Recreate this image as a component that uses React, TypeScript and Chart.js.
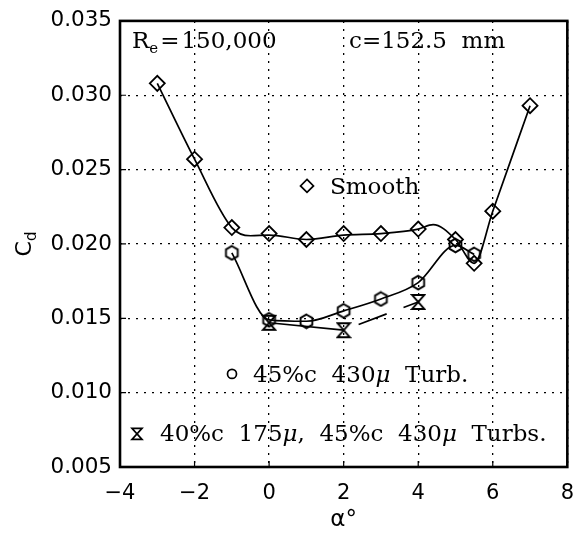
import React, { useEffect, useRef } from "react";
import { Chart, registerables } from "chart.js";

Chart.register(...registerables);

// ---- data ----
const alphaMin = -4;
const alphaMax = 8;
const alphaStep = 2;
const cdMin = 0.005;
const cdMax = 0.035;
const cdStep = 0.005;

// Smooth airfoil (diamonds)
const smoothAlpha = [-3, -2, -1, 0, 1, 2, 3, 4, 5, 5.5, 6, 7];
const smoothCd = [0.0308, 0.0257, 0.0211, 0.0207, 0.0203, 0.0207, 0.0207, 0.021, 0.0203, 0.0187, 0.0222, 0.0293];

// fitted curve through the smooth data (as drawn in the picture)
const smoothFitAlpha = [-3, -2, -1, -0.5, 0, 1, 2, 3, 4, 4.4, 5, 5.5, 6, 7];
const smoothFitCd = [0.0308, 0.0257, 0.0211, 0.02055, 0.0206, 0.0203, 0.0206, 0.0207, 0.021, 0.0213, 0.0203, 0.0187, 0.0222, 0.0293];

// 45%c 430µ turbulator (hexagons)
const turbAlpha = [-1, 0, 1, 2, 3, 4, 5, 5.5];
const turbCd = [0.0194, 0.0149, 0.0148, 0.0155, 0.0163, 0.0174, 0.0199, 0.0193];

// 40%c 175µ + 45%c 430µ turbulators (hourglass)
const dualAlpha = [0, 2, 4];
const dualCd = [0.0147, 0.0142, 0.0161];

const SERIF = "'DejaVu Serif', serif";
const SANS = "'DejaVu Sans', sans-serif";

function hexPath(g: CanvasRenderingContext2D, cx: number, cy: number, r: number) {
  g.beginPath();
  for (let i = 0; i < 6; i++) {
    const a = -Math.PI / 2 + (i * Math.PI) / 3;
    const px = cx + r * Math.cos(a);
    const py = cy + r * Math.sin(a);
    if (i === 0) g.moveTo(px, py);
    else g.lineTo(px, py);
  }
  g.closePath();
}

function hourglassPath(g: CanvasRenderingContext2D, cx: number, cy: number, w: number, h: number) {
  g.beginPath();
  g.moveTo(cx - w / 2, cy - h / 2);
  g.lineTo(cx + w / 2, cy - h / 2);
  g.lineTo(cx - w / 2, cy + h / 2);
  g.lineTo(cx + w / 2, cy + h / 2);
  g.closePath();
}

function diamondPath(g: CanvasRenderingContext2D, cx: number, cy: number, r: number) {
  g.beginPath();
  g.moveTo(cx, cy - r);
  g.lineTo(cx + r, cy);
  g.lineTo(cx, cy + r);
  g.lineTo(cx - r, cy);
  g.closePath();
}

function makeImg(w: number, h: number, draw: (g: CanvasRenderingContext2D) => void) {
  const c = document.createElement("canvas");
  c.width = w;
  c.height = h;
  const g = c.getContext("2d")!;
  g.strokeStyle = "#000";
  g.lineWidth = 1.9;
  draw(g);
  g.stroke();
  return c;
}

type Part = { t: string; f: string; dy?: number; dx?: number };
function drawRich(g: CanvasRenderingContext2D, x: number, y: number, parts: Part[]) {
  let cx = x;
  for (const p of parts) {
    g.font = p.f;
    cx += p.dx || 0;
    g.fillText(p.t, cx, y + (p.dy || 0));
    cx += g.measureText(p.t).width;
  }
}

const decorPlugin = {
  id: "decor",
  afterDraw(chart: any) {
    const g: CanvasRenderingContext2D = chart.ctx;
    const a = chart.chartArea;
    const xs = chart.scales.x;
    const ys = chart.scales.y;
    g.save();
    g.strokeStyle = "#000";
    g.fillStyle = "#000";
    // frame
    g.lineWidth = 2.6;
    g.strokeRect(a.left, a.top, a.right - a.left, a.bottom - a.top);
    // small inward ticks
    g.lineWidth = 1.2;
    g.beginPath();
    for (let v = alphaMin + alphaStep; v < alphaMax; v += alphaStep) {
      const px = xs.getPixelForValue(v);
      g.moveTo(px, a.bottom);
      g.lineTo(px, a.bottom - 6);
    }
    for (let v = cdMin + cdStep; v < cdMax - 1e-9; v += cdStep) {
      const py = ys.getPixelForValue(v);
      g.moveTo(a.left, py);
      g.lineTo(a.left + 6, py);
    }
    g.stroke();

    g.textBaseline = "alphabetic";
    g.textAlign = "left";
    // annotations
    const big = `23px ${SERIF}`;
    drawRich(g, a.left + 12, a.top + 27, [
      { t: "R", f: big },
      { t: "e", f: `15px ${SERIF}`, dy: 5 },
      { t: "=", f: big, dx: 2 },
      { t: "150,000", f: big, dx: 2 },
    ]);
    drawRich(g, a.left + 229, a.top + 27, [{ t: "c=152.5  mm", f: big }]);

    const leg = `23px ${SERIF}`;
    const legIt = `italic 23px ${SERIF}`;
    g.lineWidth = 1.7;
    diamondPath(g, a.left + 187, a.top + 165, 6.5);
    g.stroke();
    drawRich(g, a.left + 210, a.top + 173, [{ t: "Smooth", f: leg }]);

    g.beginPath();
    g.arc(a.left + 112, a.top + 353, 4.5, 0, Math.PI * 2);
    g.stroke();
    drawRich(g, a.left + 133, a.top + 361, [
      { t: "45%c  430", f: leg },
      { t: "\u03bc", f: legIt },
      { t: "  Turb.", f: leg },
    ]);

    hourglassPath(g, a.left + 17, a.top + 413, 10, 11);
    g.stroke();
    drawRich(g, a.left + 40, a.top + 420, [
      { t: "40%c  175", f: leg },
      { t: "\u03bc", f: legIt },
      { t: ",  45%c  430", f: leg },
      { t: "\u03bc", f: legIt },
      { t: "  Turbs.", f: leg },
    ]);

    // y axis title C_d
    g.save();
    g.translate(31, (a.top + a.bottom) / 2);
    g.rotate(-Math.PI / 2);
    g.font = `22px ${SANS}`;
    const wC = g.measureText("C").width;
    g.font = `15px ${SANS}`;
    const wd = g.measureText("d").width;
    drawRich(g, -(wC + wd) / 2, 0, [
      { t: "C", f: `22px ${SANS}` },
      { t: "d", f: `15px ${SANS}`, dy: 5 },
    ]);
    g.restore();

    // x axis title
    g.font = `23px ${SANS}`;
    g.textAlign = "center";
    g.fillText("\u03b1\u00b0", (a.left + a.right) / 2, 526);
    g.restore();
  },
};

export default function App() {
  const ref = useRef<HTMLCanvasElement | null>(null);
  useEffect(() => {
    if (!ref.current) return;
    const hexImg = makeImg(17, 17, (g) => hexPath(g, 8.5, 8.5, 6.8));
    const hgImg = makeImg(16, 18, (g) => hourglassPath(g, 8, 9, 12, 14));

    const pts = (xs: number[], ys: number[]) => xs.map((x, i) => ({ x, y: ys[i] }));

    const chart = new Chart(ref.current, {
      type: "line",
      data: {
        datasets: [
          {
            label: "Smooth fit",
            data: pts(smoothFitAlpha, smoothFitCd),
            borderColor: "#000",
            borderWidth: 1.7,
            pointRadius: 0,
            cubicInterpolationMode: "monotone",
            fill: false,
          },
          {
            label: "Smooth",
            data: pts(smoothAlpha, smoothCd),
            showLine: false,
            pointStyle: "rectRot",
            pointRadius: 7.5,
            pointBorderWidth: 1.8,
            pointBorderColor: "#000",
            pointBackgroundColor: "rgba(0,0,0,0)",
          },
          {
            label: "45%c 430\u03bc Turb.",
            data: pts(turbAlpha, turbCd),
            borderColor: "#000",
            borderWidth: 1.7,
            cubicInterpolationMode: "monotone",
            pointStyle: hexImg as any,
            pointRadius: 7,
            fill: false,
          },
          {
            label: "40%c 175\u03bc, 45%c 430\u03bc Turbs.",
            data: pts(dualAlpha, dualCd),
            borderColor: "#000",
            borderWidth: 1.7,
            tension: 0,
            pointStyle: hgImg as any,
            pointRadius: 7,
            fill: false,
            segment: {
              borderDash: (c: any) => (c.p0DataIndex === 1 ? [30, 18] : undefined),
              borderDashOffset: (c: any) => (c.p0DataIndex === 1 ? 32 : undefined),
            },
          } as any,
        ],
      },
      options: {
        animation: false,
        responsive: false,
        maintainAspectRatio: false,
        layout: { padding: { left: 0, right: 16, top: 19, bottom: 0 } },
        plugins: {
          legend: { display: false },
          tooltip: { enabled: false },
        },
        scales: {
          x: {
            type: "linear",
            min: alphaMin,
            max: alphaMax,
            afterFit: (s: any) => {
              s.height = 68;
            },
            ticks: {
              stepSize: alphaStep,
              padding: 14,
              color: "#000",
              font: { family: SANS, size: 21 },
              callback: (v: any) => (Number(v) < 0 ? "\u2212" + Math.abs(Number(v)) : String(v)),
            },
            grid: { color: "#000", lineWidth: 1.3, drawTicks: false },
            border: { display: false, dash: [2, 6] },
          },
          y: {
            type: "linear",
            min: cdMin,
            max: cdMax,
            afterFit: (s: any) => {
              s.width = 120;
            },
            ticks: {
              stepSize: cdStep,
              padding: 8,
              color: "#000",
              font: { family: SANS, size: 21.5 },
              callback: (v: any) => Number(v).toFixed(3),
            },
            grid: { color: "#000", lineWidth: 1.3, drawTicks: false },
            border: { display: false, dash: [2, 6] },
          },
        },
      },
      plugins: [decorPlugin],
    });
    return () => chart.destroy();
  }, []);

  return (
    <div style={{ position: "fixed", left: 0, top: 0, width: 588, height: 535, background: "#fff" }}>
      <canvas ref={ref} width={588} height={535} style={{ width: 588, height: 535 }} />
    </div>
  );
}
